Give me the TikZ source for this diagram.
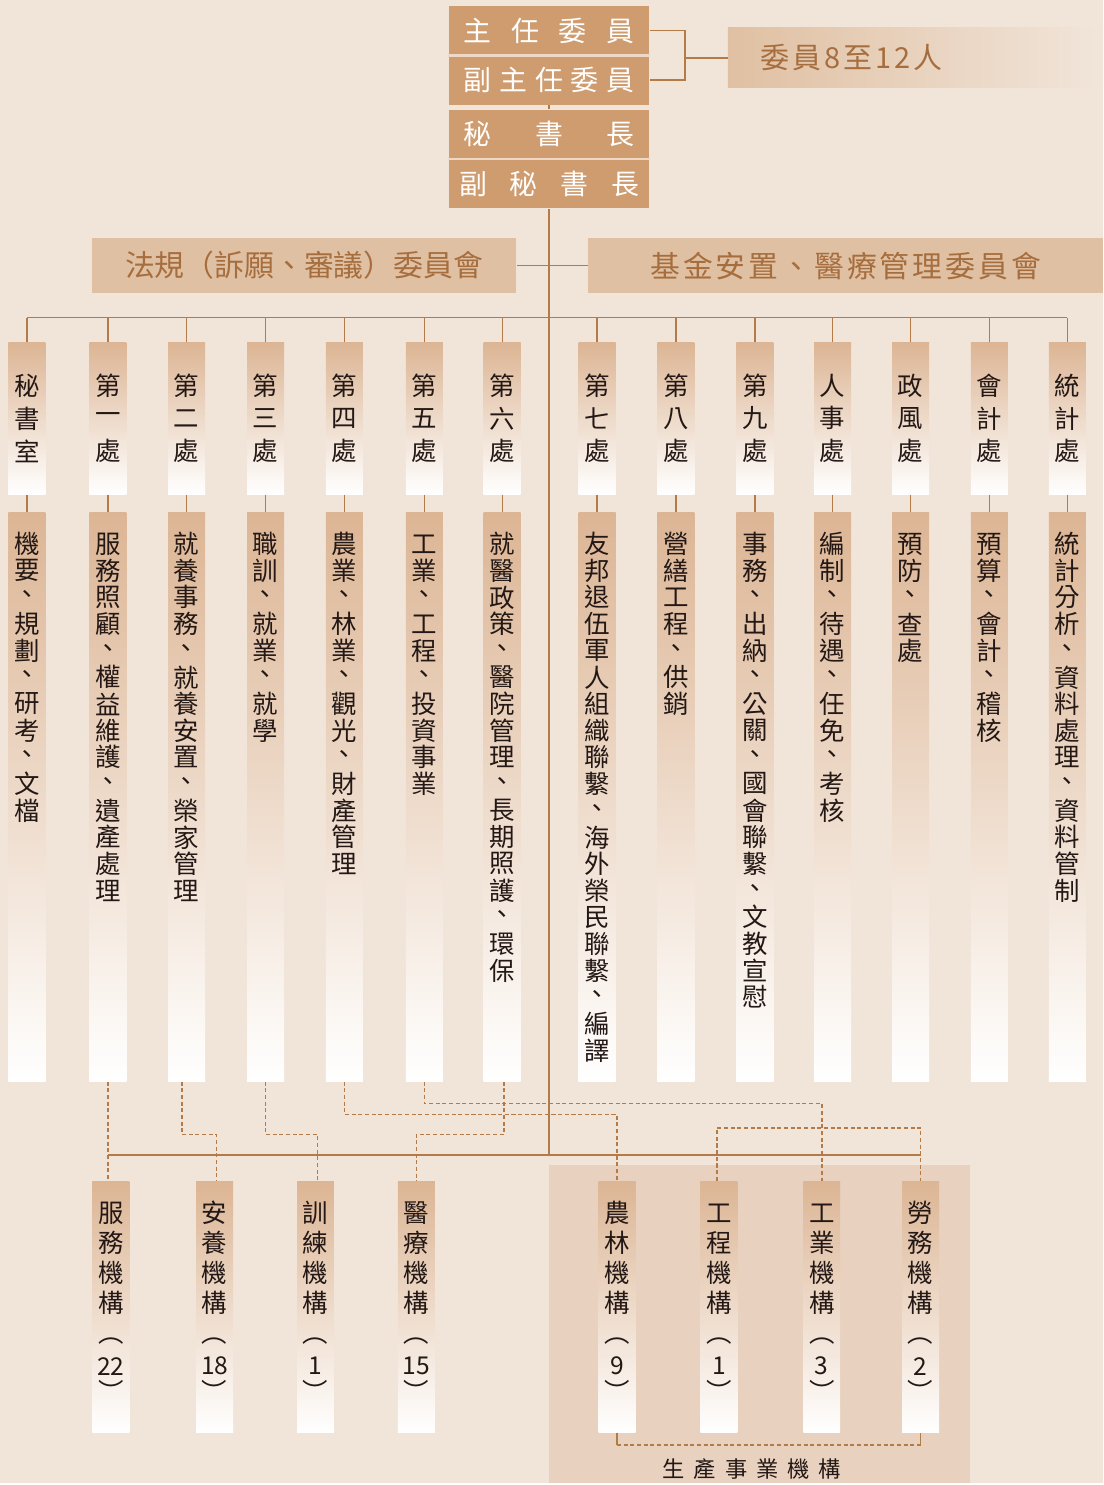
\documentclass[tikz,border=0pt]{standalone}
\usepackage{fontspec}
\setmainfont{Noto Sans CJK TC}
\definecolor{bgc}{HTML}{F1E5DA}
\definecolor{topc}{HTML}{CF9C6F}
\definecolor{barc}{HTML}{E0C0A2}
\definecolor{tanc}{HTML}{DCB594}
\definecolor{linec}{HTML}{B47A48}
\definecolor{panelc}{HTML}{E8D1BE}
\definecolor{txtc}{HTML}{231815}
\definecolor{brownc}{HTML}{A66E3E}
\definecolor{sepc}{HTML}{EFD9C6}
\makeatletter
\newcommand\vcol[2]{\vbox{\offinterlineskip\@tfor\vch:=#2\do{\vbox to #1{\vss\hbox to 1.3em{\hss\vch\hss}\vss}}}}
\makeatother
\newcommand\duty[1]{\vbox to 11.4cm{\vskip 0.37cm\vcol{0.534cm}{#1}\vfil}}
\newcommand\instcol[2]{\vbox to 5.04cm{\vskip 0.34cm\vcol{0.6cm}{#1}\vskip 0.18cm\vcol{0.5cm}{︵{\numsize #2}︶}\vfil}}
\newcommand\numsize{\fontsize{14pt}{14pt}\selectfont}
\tikzset{
  link/.style={draw=linec, line width=0.8pt},
  dlink/.style={draw=linec, line width=0.9pt, dash pattern=on 2.3pt off 1.5pt},
  chiefbox/.style={fill=topc, text=white, inner sep=0pt, minimum width=4.02cm, minimum height=0.99cm, font=\fontsize{15.9pt}{15.9pt}\selectfont},
  board/.style={fill=barc, text=brownc, inner sep=0pt, minimum height=1.1cm, font=\fontsize{17pt}{17pt}\selectfont},
  headbox/.style={inner sep=0pt, minimum width=0.74cm, minimum height=3.04cm, top color=tanc, bottom color=white, text=txtc, font=\fontsize{14.5pt}{14.5pt}\selectfont},
  dutybox/.style={headbox, minimum height=11.4cm},
  instbox/.style={headbox, minimum height=5.04cm}
}
\begin{document}
\begin{tikzpicture}[x=0.02cm,y=-0.02cm]
\fill[bgc] (0,0) rectangle (1105,1485);

\node[chiefbox] (chair) at (550,30.5) {\hbox to 3.42cm{主\hfill 任\hfill 委\hfill 員}};
\node[chiefbox] (vchair) at (550,80) {\hbox to 3.42cm{副\hfill 主\hfill 任\hfill 委\hfill 員}};
\node[chiefbox] (sgen) at (550,134.5) {\hbox to 3.42cm{秘\hfill 書\hfill 長}};
\node[chiefbox] (vsgen) at (550,184) {\hbox to 3.6cm{副\hfill 秘\hfill 書\hfill 長}};
\draw[sepc, line width=1.2pt] (chair.south west) -- (chair.south east);
\draw[sepc, line width=1.2pt] (sgen.south west) -- (sgen.south east);

\node[inner sep=0pt, minimum width=7.52cm, minimum height=1.2cm, left color=barc, middle color=barc!70!bgc, right color=bgc, text=brownc, font=\fontsize{16.5pt}{16.5pt}\selectfont\addfontfeatures{LetterSpace=10}] (members) at (917,58) {\hbox to 7.52cm{\kern0.66cm 委員8至12人\hfil}};
\coordinate (brk) at (686,58);
\draw[link] (chair.east) -| (brk) |- (vchair.east);
\draw[link] (brk) -- (members);

\coordinate (hub) at (550,1157);
\draw[link] (vchair) -- (sgen);
\draw[link] (vsgen) -- (hub);

\node[board, minimum width=8.5cm] (law) at (304.5,266) {法規（訴願、審議）委員會};
\node[board, minimum width=10.32cm, font=\fontsize{17pt}{17pt}\selectfont\addfontfeatures{LetterSpace=10}] (fund) at (847,266) {基金安置、醫療管理委員會};
\draw[link] (law) -- (fund);

\coordinate (bl) at (27,318);
\coordinate (br) at (1069,318);
\draw[link] (bl) -- (br);

\node[headbox] (h1) at (27,419) {\vcol{0.66cm}{秘書室}};
\node[headbox] (h2) at (108,419) {\vcol{0.66cm}{第一處}};
\node[headbox] (h3) at (187,419) {\vcol{0.66cm}{第二處}};
\node[headbox] (h4) at (266,419) {\vcol{0.66cm}{第三處}};
\node[headbox] (h5) at (345,419) {\vcol{0.66cm}{第四處}};
\node[headbox] (h6) at (425,419) {\vcol{0.66cm}{第五處}};
\node[headbox] (h7) at (503,419) {\vcol{0.66cm}{第六處}};
\node[headbox] (h8) at (598,419) {\vcol{0.66cm}{第七處}};
\node[headbox] (h9) at (677,419) {\vcol{0.66cm}{第八處}};
\node[headbox] (h10) at (756,419) {\vcol{0.66cm}{第九處}};
\node[headbox] (h11) at (834,419) {\vcol{0.66cm}{人事處}};
\node[headbox] (h12) at (912,419) {\vcol{0.66cm}{政風處}};
\node[headbox] (h13) at (991,419) {\vcol{0.66cm}{會計處}};
\node[headbox] (h14) at (1069,419) {\vcol{0.66cm}{統計處}};

\node[dutybox] (f1) at (27,798) {\duty{機要、規劃、研考、文檔}};
\node[dutybox] (f2) at (108,798) {\duty{服務照顧、權益維護、遺產處理}};
\node[dutybox] (f3) at (187,798) {\duty{就養事務、就養安置、榮家管理}};
\node[dutybox] (f4) at (266,798) {\duty{職訓、就業、就學}};
\node[dutybox] (f5) at (345,798) {\duty{農業、林業、觀光、財產管理}};
\node[dutybox] (f6) at (425,798) {\duty{工業、工程、投資事業}};
\node[dutybox] (f7) at (503,798) {\duty{就醫政策、醫院管理、長期照護、環保}};
\node[dutybox] (f8) at (598,798) {\duty{友邦退伍軍人組織聯繫、海外榮民聯繫、編譯}};
\node[dutybox] (f9) at (677,798) {\duty{營繕工程、供銷}};
\node[dutybox] (f10) at (756,798) {\duty{事務、出納、公關、國會聯繫、文教宣慰}};
\node[dutybox] (f11) at (834,798) {\duty{編制、待遇、任免、考核}};
\node[dutybox] (f12) at (912,798) {\duty{預防、查處}};
\node[dutybox] (f13) at (991,798) {\duty{預算、會計、稽核}};
\node[dutybox] (f14) at (1069,798) {\duty{統計分析、資料處理、資料管制}};

\draw[link] (h1 |- bl) -- (h1) -- (f1);
\draw[link] (h2 |- bl) -- (h2) -- (f2);
\draw[link] (h3 |- bl) -- (h3) -- (f3);
\draw[link] (h4 |- bl) -- (h4) -- (f4);
\draw[link] (h5 |- bl) -- (h5) -- (f5);
\draw[link] (h6 |- bl) -- (h6) -- (f6);
\draw[link] (h7 |- bl) -- (h7) -- (f7);
\draw[link] (h8 |- bl) -- (h8) -- (f8);
\draw[link] (h9 |- bl) -- (h9) -- (f9);
\draw[link] (h10 |- bl) -- (h10) -- (f10);
\draw[link] (h11 |- bl) -- (h11) -- (f11);
\draw[link] (h12 |- bl) -- (h12) -- (f12);
\draw[link] (h13 |- bl) -- (h13) -- (f13);
\draw[link] (h14 |- bl) -- (h14) -- (f14);

\node[fill=panelc, inner sep=0pt, minimum width=8.44cm, minimum height=6.36cm] (prod) at (761,1326) {};
\node[text=txtc, font=\fontsize{12.7pt}{12.7pt}\selectfont\addfontfeatures{LetterSpace=40}] (prodlabel) at (753,1471) {生產事業機構};

\node[instbox] (b1) at (111,1309) {\instcol{服務機構}{22}};
\node[instbox] (b2) at (215,1309) {\instcol{安養機構}{18}};
\node[instbox] (b3) at (316,1309) {\instcol{訓練機構}{1}};
\node[instbox] (b4) at (417,1309) {\instcol{醫療機構}{15}};
\node[instbox] (b5) at (618,1309) {\instcol{農林機構}{9}};
\node[instbox] (b6) at (720,1309) {\instcol{工程機構}{1}};
\node[instbox] (b7) at (823,1309) {\instcol{工業機構}{3}};
\node[instbox] (b8) at (922,1309) {\instcol{勞務機構}{2}};

\draw[link] (f2 |- hub) -- (hub) -- (b8.north |- hub);
\draw[dlink] (f2) -- (f2 |- b1.north);
\draw[dlink] ([xshift=-0.1cm]f3.south) -- ++(0,53) -| ([xshift=0.04cm]b2.north);
\draw[dlink] (f4.south) -- ++(0,53) -| ([xshift=0.04cm]b3.north);
\draw[dlink] ([xshift=0.04cm]f7.south) -- ++(0,53) -| (b4.north);
\draw[dlink] (f5.south) -- ++(0,33) -| (b5.north);
\draw[dlink] (f6.south) -- ++(0,22) -| (b7.north);
\draw[dlink] ([xshift=-0.04cm]b6.north) -- ++(0,-53) -| (b8.north);
\draw[link] (b5.south) -- ++(0,12) coordinate (pl);
\draw[link] (b8.south) -- ++(0,12) coordinate (pr);
\draw[dlink] (pl) -- (pr);
\end{tikzpicture}
\end{document}
